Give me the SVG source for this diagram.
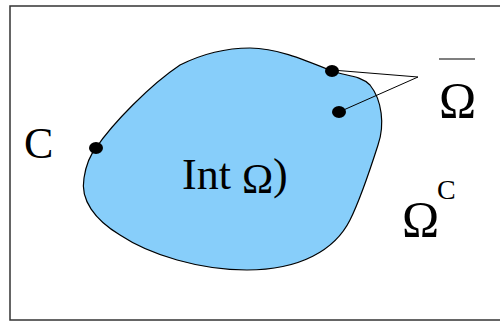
<svg xmlns="http://www.w3.org/2000/svg" width="500" height="323" viewBox="0 0 500 323">
<style>
.t{font-family:"Liberation Serif","Times New Roman",serif;fill:#000}
.dot{fill:#000}
.ln{stroke:#000;stroke-width:1;fill:none}
</style>
<rect x="10" y="6" width="495" height="314" fill="#fff" stroke="#333" stroke-width="1.5"/>
<g id="region">
<path d="M180,65 C200,55 225,48 250,48 C275,48 300,58 332,71 C345,76 360,75 370,85 C382,100 385,125 378,145 C370,170 360,200 350,220 C335,250 300,270 247,270 C200,270 150,255 120,235 C95,220 80,200 84,178 C86,165 90,155 96,148 C112,124 150,85 180,65 Z" fill="#87CEFA" stroke="#000" stroke-width="1.2"/>
</g>
<g id="connectors">
<line class="ln" x1="332" y1="70" x2="418" y2="77"/>
<line class="ln" x1="339" y1="112" x2="418" y2="77"/>
</g>
<g id="dots">
<ellipse class="dot" cx="332" cy="71" rx="7" ry="6"/>
<ellipse class="dot" cx="339" cy="112" rx="7" ry="6"/>
<ellipse class="dot" cx="96" cy="148" rx="7" ry="6"/>
</g>
<g id="label-C"><text class="t" x="24" y="158" font-size="44">C</text></g>
<g id="label-int"><text class="t" x="182" y="189" font-size="44">Int <tspan font-size="42" dy="4">Ω</tspan><tspan dy="-4">)</tspan></text></g>
<g id="label-closure">
<line x1="439" y1="59" x2="475" y2="59" stroke="#000" stroke-width="1.2"/>
<text class="t" x="439" y="117" font-size="50">Ω</text>
</g>
<g id="label-complement">
<text class="t" x="402" y="236" font-size="50">Ω</text>
<text class="t" x="437" y="199" font-size="28">C</text>
</g>
</svg>
